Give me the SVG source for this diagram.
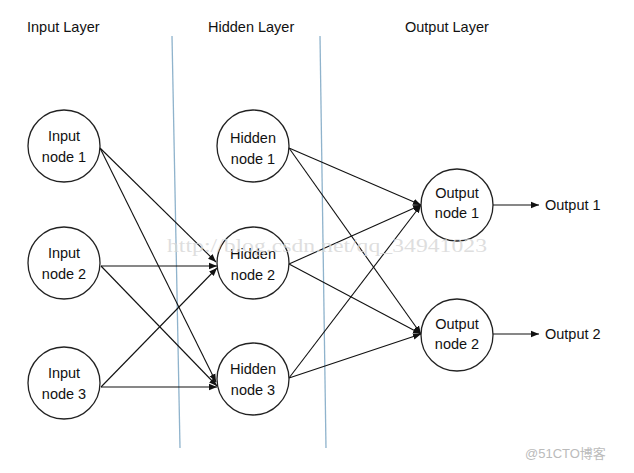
<svg xmlns="http://www.w3.org/2000/svg" width="634" height="473" viewBox="0 0 634 473">
<style>
text{font-family:"Liberation Sans",Arial,sans-serif;font-size:14.5px;fill:#111}
.n{text-anchor:middle}
circle{fill:#fff;stroke:#222;stroke-width:1.3}
.e{stroke:#111;stroke-width:1.1;fill:none;marker-end:url(#a)}
.sep{stroke:#8fb3cc;stroke-width:1.3}
.wm{font-family:"Liberation Serif",serif;font-size:19px;fill:#d6d6d6;fill-opacity:0.8}
</style>
<defs>
<marker id="a" viewBox="0 0 10 10" refX="10" refY="5" markerWidth="8" markerHeight="8" markerUnits="userSpaceOnUse" orient="auto">
<path d="M0,1 L10,5 L0,9 Z" fill="#111"/>
</marker>
</defs>
<rect width="634" height="473" fill="#fff"/>
<g id="titles">
<text x="27" y="32">Input Layer</text>
<text x="208" y="32">Hidden Layer</text>
<text x="405" y="32">Output Layer</text>
</g>
<g id="separators">
<line class="sep" x1="172" y1="36" x2="180" y2="448"/>
<line class="sep" x1="320" y1="36" x2="326" y2="448"/>
</g>
<g id="connectors">
<line class="e" x1="100" y1="148" x2="216" y2="262"/>
<line class="e" x1="100" y1="148" x2="216" y2="382"/>
<line class="e" x1="101" y1="266" x2="217" y2="266"/>
<line class="e" x1="101" y1="266" x2="217" y2="386"/>
<line class="e" x1="101" y1="387" x2="217" y2="268"/>
<line class="e" x1="101" y1="387" x2="217" y2="387"/>
<line class="e" x1="289" y1="148" x2="421" y2="205"/>
<line class="e" x1="289" y1="148" x2="421" y2="334"/>
<line class="e" x1="289" y1="264" x2="421" y2="205"/>
<line class="e" x1="289" y1="264" x2="421" y2="334"/>
<line class="e" x1="289" y1="378" x2="421" y2="205"/>
<line class="e" x1="289" y1="378" x2="421" y2="334"/>
<line class="e" x1="493" y1="205" x2="539" y2="205"/>
<line class="e" x1="493" y1="334" x2="539" y2="334"/>
</g>
<g id="input1"><circle cx="64" cy="146" r="36"/><text class="n" x="64" y="141">Input</text><text class="n" x="64" y="162">node 1</text></g>
<g id="input2"><circle cx="64" cy="263" r="36"/><text class="n" x="64" y="258">Input</text><text class="n" x="64" y="279">node 2</text></g>
<g id="input3"><circle cx="64" cy="383" r="36"/><text class="n" x="64" y="378">Input</text><text class="n" x="64" y="399">node 3</text></g>
<g id="hidden1"><circle cx="253" cy="146" r="36"/><text class="n" x="253" y="143">Hidden</text><text class="n" x="253" y="164">node 1</text></g>
<g id="hidden2"><circle cx="253" cy="263" r="36"/><text class="n" x="253" y="259">Hidden</text><text class="n" x="253" y="280">node 2</text></g>
<g id="hidden3"><circle cx="253" cy="379" r="36"/><text class="n" x="253" y="374">Hidden</text><text class="n" x="253" y="395">node 3</text></g>
<g id="output1"><circle cx="457" cy="205" r="36"/><text class="n" x="457" y="198">Output</text><text class="n" x="457" y="218">node 1</text></g>
<g id="output2"><circle cx="457" cy="335" r="36"/><text class="n" x="457" y="329">Output</text><text class="n" x="457" y="349">node 2</text></g>
<g id="out1label"><text x="545" y="210">Output 1</text></g>
<g id="out2label"><text x="545" y="339">Output 2</text></g>
<text class="wm" x="167" y="252" textLength="320" lengthAdjust="spacingAndGlyphs">http://blog.csdn.net/qq_34941023</text>
<text x="525" y="458" style="font-family:'Liberation Sans','Noto Sans CJK SC',sans-serif;font-size:13px;fill:#bbbbbb">@51CTO博客</text>
</svg>
